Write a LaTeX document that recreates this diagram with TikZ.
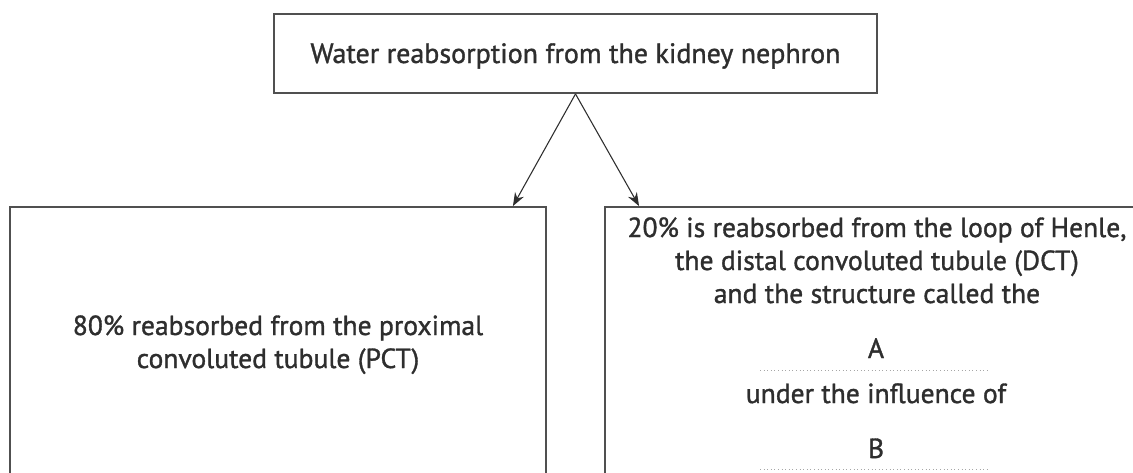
\documentclass[tikz,border=0pt]{standalone}
\usepackage{fontspec}
\setmainfont{PT Sans}[FakeBold=1.2]
\usetikzlibrary{calc,arrows.meta}
\definecolor{ink}{HTML}{2E2E2E}
\definecolor{edge}{HTML}{505050}
\newlength\twa
\newlength\twb
\AtBeginDocument{%
\settowidth\twa{\fontsize{10}{12}\selectfont Water reabsorption from the kidney nephron}%
\settowidth\twb{\fontsize{10}{12}\selectfont 20\% is reabsorbed from the loop of Henle,}%
\pgfmathsetmacro\fsa{10*397.5/\twa}%
\pgfmathsetmacro\fsb{10*374.25/\twb}%
\xdef\fsa{\fsa}\xdef\fsb{\fsb}}
\begin{document}
\begin{tikzpicture}[x=0.75pt,y=-0.75pt,
  boxnode/.style={draw=edge,line width=1.4pt,inner sep=0pt},
  conn/.style={draw=ink,line width=0.8pt,-{Stealth[length=10pt,width=7.5pt]}},
  blank/.style={draw=gray!70,line width=0.7pt,dotted},
  txta/.style={text=ink,font=\fontsize{\fsa}{24.75}\selectfont,align=center,inner sep=0pt,anchor=base},
  txtb/.style={text=ink,font=\fontsize{\fsb}{24.75}\selectfont,align=center,inner sep=0pt,anchor=base}]
\useasboundingbox (0,0) rectangle (1133,472);
\clip (0,0) rectangle (1133,472);
\fill[white] (0,0) rectangle (1133,472);
% boxes
\node[boxnode,minimum width=452.25pt,minimum height=59.25pt] (top) at (575.5,53.5) {};
\node[boxnode,minimum width=402pt,minimum height=225pt] (left) at (278,357) {};
\node[boxnode,minimum width=408pt,minimum height=225pt] (right) at (877,357) {};
% texts (base anchor = baseline of the last line)
\node[txta] (toptxt) at (575.5,63) {Water reabsorption from the kidney nephron};
\node[txtb] (lefttxt) at (278,368) {80\% reabsorbed from the proximal\\convoluted tubule (PCT)};
\node[txtb] (righttxt) at (877,303) {20\% is reabsorbed from the loop of Henle,\\the distal convoluted tubule (DCT)\\and the structure called the};
\node[txtb] (a) at (876,358) {A};
\node[txtb] (infl) at (876,403) {under the influence of};
\node[txtb] (b) at (876,458) {B};
% answer blanks
\coordinate (a1) at (760,370);
\coordinate (a2) at (989,370);
\draw[blank] (a1) -- (a2);
\coordinate (b1) at (760,469);
\coordinate (b2) at (989,469);
\draw[blank] (b1) -- (b2);
% connectors
\coordinate (s) at (top.south);
\coordinate (tl) at ($(left.north east)+(-34,0)$);
\coordinate (tr) at ($(right.north west)+(35,0)$);
\draw[conn] (s) -- (tl);
\draw[conn] (s) -- (tr);
\end{tikzpicture}
\end{document}
